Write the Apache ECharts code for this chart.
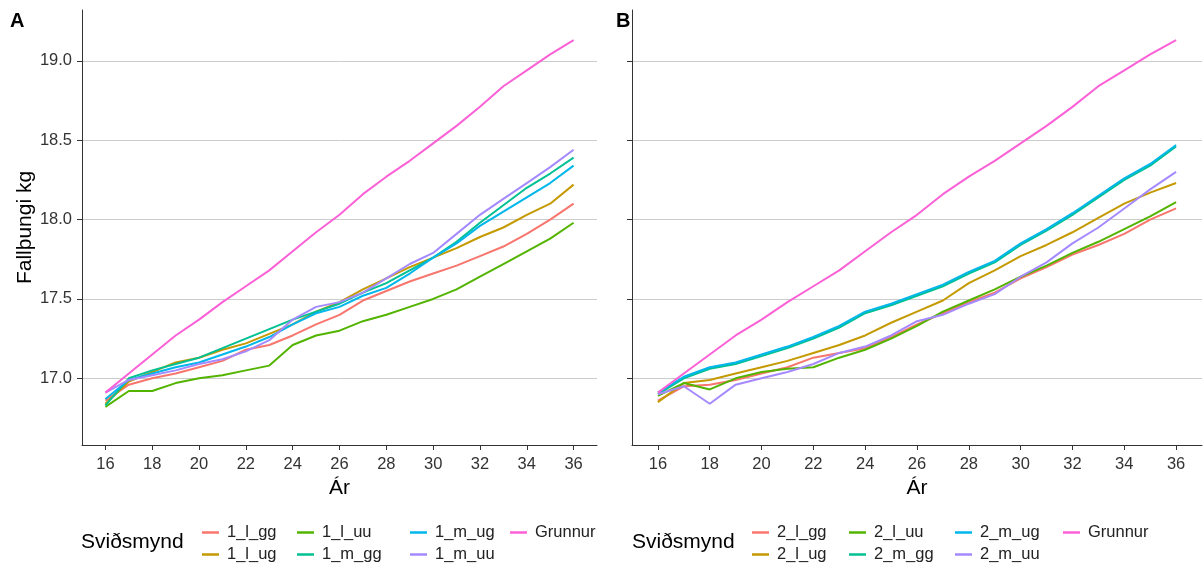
<!DOCTYPE html>
<html>
<head>
<meta charset="utf-8">
<script src="https://cdn.jsdelivr.net/npm/echarts@6/dist/echarts.min.js"></script>
<style>
  html, body { margin: 0; padding: 0; background: #fff; }
  #chart { width: 1203px; height: 570px; }
</style>
</head>
<body>
<div id="chart"></div>
<script>
const years = [16, 17, 18, 19, 20, 21, 22, 23, 24, 25, 26, 27, 28, 29, 30, 31, 32, 33, 34, 35, 36]
const xTicks = [16, 18, 20, 22, 24, 26, 28, 30, 32, 34, 36]
const yTicks = [17.0, 17.5, 18.0, 18.5, 19.0]

const grunnur = [16.91, 17.03, 17.15, 17.27, 17.37, 17.48, 17.58, 17.68, 17.80, 17.92, 18.03, 18.16, 18.27, 18.37, 18.48, 18.59, 18.71, 18.84, 18.94, 19.04, 19.13]

// panel A
const a_l_gg = [16.86, 16.96, 17.00, 17.03, 17.07, 17.11, 17.18, 17.21, 17.27, 17.34, 17.40, 17.49, 17.55, 17.61, 17.66, 17.71, 17.77, 17.83, 17.91, 18.00, 18.10]
const a_l_ug = [16.84, 16.98, 17.04, 17.10, 17.13, 17.18, 17.22, 17.28, 17.34, 17.42, 17.48, 17.56, 17.63, 17.70, 17.76, 17.82, 17.89, 17.95, 18.03, 18.10, 18.22]
const a_l_uu = [16.82, 16.92, 16.92, 16.97, 17.00, 17.02, 17.05, 17.08, 17.21, 17.27, 17.30, 17.36, 17.40, 17.45, 17.50, 17.56, 17.64, 17.72, 17.80, 17.88, 17.98]
const a_m_gg = [16.83, 17.00, 17.05, 17.09, 17.13, 17.19, 17.25, 17.31, 17.37, 17.42, 17.47, 17.54, 17.60, 17.68, 17.76, 17.86, 17.98, 18.09, 18.20, 18.29, 18.39]
const a_m_ug = [16.87, 16.99, 17.03, 17.07, 17.10, 17.15, 17.20, 17.26, 17.34, 17.41, 17.45, 17.52, 17.57, 17.66, 17.76, 17.85, 17.96, 18.05, 18.14, 18.23, 18.34]
const a_m_uu = [16.91, 16.99, 17.02, 17.05, 17.09, 17.12, 17.17, 17.24, 17.37, 17.45, 17.48, 17.54, 17.63, 17.72, 17.79, 17.91, 18.03, 18.13, 18.23, 18.33, 18.44]

// panel B
const b_l_gg = [16.86, 16.95, 16.96, 16.99, 17.03, 17.07, 17.13, 17.16, 17.19, 17.26, 17.34, 17.41, 17.48, 17.54, 17.63, 17.70, 17.78, 17.84, 17.91, 18.00, 18.07]
const b_l_ug = [16.85, 16.97, 16.99, 17.03, 17.07, 17.11, 17.16, 17.21, 17.27, 17.35, 17.42, 17.49, 17.60, 17.68, 17.77, 17.84, 17.92, 18.01, 18.10, 18.17, 18.23]
const b_l_uu = [16.89, 16.97, 16.93, 17.00, 17.04, 17.06, 17.07, 17.13, 17.18, 17.25, 17.33, 17.42, 17.49, 17.56, 17.64, 17.71, 17.79, 17.86, 17.94, 18.02, 18.11]
const b_m_gg = [16.90, 17.00, 17.06, 17.09, 17.14, 17.19, 17.25, 17.32, 17.41, 17.46, 17.52, 17.58, 17.66, 17.73, 17.84, 17.93, 18.03, 18.14, 18.25, 18.34, 18.46]
const b_m_ug = [16.91, 17.01, 17.07, 17.10, 17.15, 17.20, 17.26, 17.33, 17.42, 17.47, 17.53, 17.59, 17.67, 17.74, 17.85, 17.94, 18.04, 18.15, 18.26, 18.35, 18.47]
const b_m_uu = [16.90, 16.95, 16.84, 16.96, 17.00, 17.04, 17.09, 17.16, 17.20, 17.27, 17.36, 17.40, 17.47, 17.53, 17.64, 17.73, 17.85, 17.95, 18.07, 18.19, 18.30]

const namesA = ['1_l_gg', '1_l_ug', '1_l_uu', '1_m_gg', '1_m_ug', '1_m_uu', 'Grunnur']
const namesB = ['2_l_gg', '2_l_ug', '2_l_uu', '2_m_gg', '2_m_ug', '2_m_uu', 'Grunnur']
const colors = ['#F8766D', '#C49A00', '#53B400', '#00C094', '#00B6EB', '#A58AFF', '#FB61D7']

const font = 'Liberation Sans, Arial, sans-serif'

const pair = (vals) => years.map((y, i) => [y, vals[i]])

const mkLine = (name, vals, color, idx) => ({
  name,
  type: 'line',
  xAxisIndex: idx,
  yAxisIndex: idx,
  data: pair(vals),
  showSymbol: false,
  symbol: 'none',
  lineStyle: {width: 2, color},
  itemStyle: {color},
  silent: true
})

const mkX = (idx) => ({
  type: 'value',
  gridIndex: idx,
  min: 15,
  max: 37,
  name: 'Ár',
  nameLocation: 'middle',
  nameGap: 33,
  nameTextStyle: {fontFamily: font, fontSize: 21, color: '#000'},
  axisLine: {lineStyle: {color: '#333', width: 1}},
  axisTick: {show: true, length: 5, customValues: xTicks, lineStyle: {color: '#333'}},
  axisLabel: {customValues: xTicks, margin: 11, fontFamily: font, fontSize: 16.5, color: '#333'},
  splitLine: {show: false}
})

const mkY = (idx, labels) => ({
  type: 'value',
  gridIndex: idx,
  min: 16.58,
  max: 19.32,
  name: labels ? 'Fallþungi kg' : '',
  nameLocation: 'middle',
  nameRotate: 90,
  nameGap: 46,
  nameTextStyle: {fontFamily: font, fontSize: 21, color: '#000'},
  axisLine: {show: true, lineStyle: {color: '#333', width: 1}},
  axisTick: {show: true, length: 5, customValues: yTicks, lineStyle: {color: '#333'}},
  axisLabel: {
    show: labels,
    customValues: yTicks,
    margin: 10,
    fontFamily: font,
    fontSize: 16.5,
    color: '#333',
    formatter: (v) => v.toFixed(1)
  },
  splitLine: {show: true, lineStyle: {color: '#cccccc', width: 1}}
})

const mkLegend = (names, left, top) => ({
  data: names,
  orient: 'vertical',
  left,
  top,
  icon: 'rect',
  itemWidth: 17,
  itemHeight: 2.5,
  itemGap: 5,
  selectedMode: false,
  textStyle: {fontFamily: font, fontSize: 16.5, color: '#222', padding: [0, 0, 0, 3]}
})

const series = []
const valsA = [a_l_gg, a_l_ug, a_l_uu, a_m_gg, a_m_ug, a_m_uu, grunnur]
const valsB = [b_l_gg, b_l_ug, b_l_uu, b_m_gg, b_m_ug, b_m_uu, grunnur]
namesA.forEach((n, i) => series.push(mkLine(n, valsA[i], colors[i], 0)))
namesB.forEach((n, i) => series.push(mkLine(n, valsB[i], colors[i], 1)))

const chart = echarts.init(document.getElementById('chart'))
chart.setOption({
  animation: false,
  title: [
    {text: 'A', left: 5, top: 6, textStyle: {fontFamily: font, fontSize: 20, fontWeight: 'bold', color: '#000'}},
    {text: 'B', left: 611, top: 6, textStyle: {fontFamily: font, fontSize: 20, fontWeight: 'bold', color: '#000'}}
  ],
  grid: [
    {left: 82, right: 606, top: 10, bottom: 125},
    {left: 632, right: 1, top: 10, bottom: 125}
  ],
  xAxis: [mkX(0), mkX(1)],
  yAxis: [mkY(0, true), mkY(1, false)],
  legend: [
    mkLegend(['1_l_gg', '1_l_ug'], 197, 519),
    mkLegend(['1_l_uu', '1_m_gg'], 292, 519),
    mkLegend(['1_m_ug', '1_m_uu'], 405, 519),
    mkLegend(['Grunnur'], 505, 519),
    mkLegend(['2_l_gg', '2_l_ug'], 747, 519),
    mkLegend(['2_l_uu', '2_m_gg'], 844, 519),
    mkLegend(['2_m_ug', '2_m_uu'], 950, 519),
    mkLegend(['Grunnur'], 1058, 519)
  ],
  graphic: [
    {type: 'text', left: 81, top: 532, style: {text: 'Sviðsmynd', font: '21px ' + font, fill: '#000'}},
    {type: 'text', left: 632, top: 532, style: {text: 'Sviðsmynd', font: '21px ' + font, fill: '#000'}}
  ],
  series
})
</script>
</body>
</html>
